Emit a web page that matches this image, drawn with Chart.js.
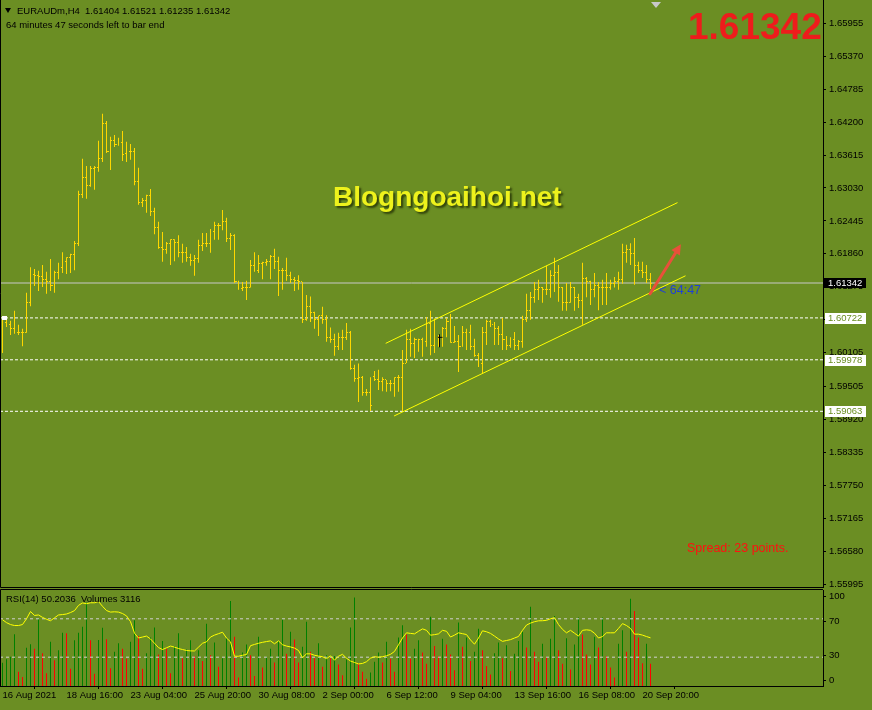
<!DOCTYPE html>
<html>
<head>
<meta charset="utf-8">
<title>EURAUDm H4</title>
<script src="https://cdn.jsdelivr.net/npm/chart.js@4.4.0/dist/chart.umd.min.js"></script>
<style>
  html, body { margin: 0; padding: 0; }
  body { width: 872px; height: 710px; background: #6b8e23; position: relative; overflow: hidden;
         font-family: 'Liberation Sans', Arial, sans-serif; }
  canvas { position: absolute; left: 0; }
  #price { top: 0; }
  #rsi { top: 588px; }
  .lbl { position: absolute; white-space: pre; line-height: 1; }
  .tri { position: absolute; width: 0; height: 0; border-left: 3px solid transparent; border-right: 3px solid transparent; }
</style>
</head>
<body>
<canvas id="price" width="872" height="588"></canvas>
<canvas id="rsi" width="872" height="122"></canvas>

<div class="tri" style="left:5px; top:8px; border-top:5px solid #000;"></div>
<div class="lbl" style="left:17px; top:6px; font-size:9.5px; color:#000;">EURAUDm,H4  1.61404 1.61521 1.61235 1.61342</div>
<div class="lbl" style="left:6px; top:19.5px; font-size:9.5px; color:#000;">64 minutes 47 seconds left to bar end</div>
<div class="tri" style="left:651px; top:2px; border-left-width:5px; border-right-width:5px; border-top:6px solid #c8c8c8;"></div>
<div class="lbl" style="left:688px; top:8px; font-size:37px; font-weight:bold; color:#ee1c1c;">1.61342</div>
<div class="lbl" style="left:333px; top:183px; font-size:28px; font-weight:bold; color:#eef21c; text-shadow:2px 2px 2px rgba(30,40,0,0.75);">Blogngoaihoi.net</div>
<div class="lbl" style="left:659px; top:284px; font-size:12.5px; color:#1e3fd8;">&lt; 64:47</div>
<div class="lbl" style="left:687px; top:542px; font-size:12.5px; color:#ff1010;">Spread: 23 points.</div>
<div class="lbl" style="left:6px; top:594px; font-size:9.5px; color:#000;">RSI(14) 50.2036  Volumes 3116</div>

<script>
// bar data (H4, oldest first)
var opens = [1.6069,1.6064,1.6060,1.6053,1.6046,1.6046,1.6046,1.6100,1.6150,1.6147,
  1.6145,1.6141,1.6136,1.6129,1.6152,1.6161,1.6173,1.6179,1.6184,1.6205,
  1.6291,1.6321,1.6307,1.6337,1.6339,1.6355,1.6417,1.6367,1.6388,1.6381,
  1.6383,1.6365,1.6367,1.6367,1.6314,1.6278,1.6280,1.6289,1.6262,1.6232,
  1.6198,1.6193,1.6204,1.6211,1.6207,1.6189,1.6188,1.6179,1.6175,1.6177,
  1.6200,1.6205,1.6204,1.6225,1.6237,1.6237,1.6244,1.6214,1.6219,1.6136,
  1.6124,1.6127,1.6126,1.6165,1.6156,1.6168,1.6170,1.6173,1.6181,1.6173,
  1.6157,1.6156,1.6147,1.6141,1.6138,1.6136,1.6069,1.6092,1.6081,1.6069,
  1.6076,1.6070,1.6037,1.6033,1.6022,1.6038,1.6038,1.6047,1.5982,1.5964,
  1.5967,1.5939,1.5939,1.5969,1.5962,1.5960,1.5962,1.5955,1.5955,1.5966,
  1.5966,1.5992,1.6033,1.6026,1.6033,1.6033,1.6031,1.6063,1.6024,1.6037,
  1.6038,1.6054,1.6065,1.6028,1.6030,1.6022,1.6046,1.6046,1.6021,1.6005,
  1.5992,1.6046,1.6065,1.6060,1.6053,1.6042,1.6033,1.6024,1.6033,1.6024,
  1.6030,1.6069,1.6086,1.6109,1.6122,1.6126,1.6122,1.6122,1.6148,1.6152,
  1.6126,1.6099,1.6099,1.6127,1.6109,1.6104,1.6143,1.6136,1.6122,1.6129,
  1.6127,1.6127,1.6127,1.6133,1.6136,1.6140,1.6189,1.6193,1.6186,1.6166,
  1.6157,1.6152,1.61404];
var highs = [1.6069,1.6069,1.6067,1.6085,1.6060,1.6053,1.6117,1.6162,1.6159,1.6156,
  1.6166,1.6154,1.6177,1.6156,1.6170,1.6189,1.6180,1.6186,1.6209,1.6298,
  1.6355,1.6342,1.6342,1.6342,1.6387,1.6435,1.6422,1.6394,1.6397,1.6392,
  1.6404,1.6385,1.6381,1.6374,1.6339,1.6285,1.6291,1.6301,1.6268,1.6243,
  1.6225,1.6207,1.6212,1.6212,1.6219,1.6204,1.6198,1.6186,1.6184,1.6211,
  1.6223,1.6223,1.6230,1.6243,1.6241,1.6264,1.6250,1.6223,1.6221,1.6138,
  1.6136,1.6138,1.6175,1.6189,1.6184,1.6172,1.6177,1.6184,1.6195,1.6181,
  1.6161,1.6179,1.6154,1.6145,1.6148,1.6136,1.6113,1.6110,1.6083,1.6076,
  1.6092,1.6077,1.6055,1.6044,1.6046,1.6051,1.6063,1.6049,1.5989,1.5991,
  1.5969,1.5946,1.5967,1.5978,1.5980,1.5967,1.5962,1.5962,1.5967,1.5971,
  1.6015,1.6051,1.6053,1.6037,1.6035,1.6037,1.6074,1.6085,1.6071,1.6042,
  1.6056,1.6072,1.6079,1.6058,1.6042,1.6058,1.6053,1.6060,1.6035,1.6010,
  1.6056,1.6069,1.6069,1.6065,1.6058,1.6072,1.6040,1.6038,1.6047,1.6033,
  1.6076,1.6115,1.6118,1.6136,1.6140,1.6127,1.6165,1.6157,1.6179,1.6166,
  1.6127,1.6134,1.6136,1.6127,1.6115,1.6170,1.6145,1.6138,1.6152,1.6136,
  1.6140,1.6152,1.6140,1.6145,1.6154,1.6204,1.6202,1.6205,1.6214,1.6172,
  1.6172,1.6166,1.61521];
var lows = [1.6010,1.6056,1.6042,1.6044,1.6042,1.6022,1.6046,1.6093,1.6129,1.6120,
  1.6127,1.6115,1.6120,1.6117,1.6141,1.6152,1.6150,1.6152,1.6157,1.6200,
  1.6285,1.6284,1.6305,1.6300,1.6332,1.6349,1.6365,1.6335,1.6376,1.6378,
  1.6351,1.6349,1.6353,1.6308,1.6273,1.6269,1.6259,1.6253,1.6221,1.6195,
  1.6172,1.6186,1.6166,1.6173,1.6180,1.6170,1.6172,1.6165,1.6147,1.6170,
  1.6191,1.6198,1.6188,1.6211,1.6211,1.6228,1.6207,1.6193,1.6134,1.6122,
  1.6120,1.6104,1.6126,1.6154,1.6152,1.6141,1.6165,1.6141,1.6159,1.6111,
  1.6122,1.6138,1.6134,1.6120,1.6122,1.6063,1.6067,1.6065,1.6053,1.6040,
  1.6062,1.6030,1.6028,1.6005,1.6015,1.6015,1.6033,1.5980,1.5959,1.5923,
  1.5934,1.5934,1.5907,1.5960,1.5944,1.5942,1.5941,1.5942,1.5932,1.5941,
  1.5907,1.5992,1.6003,1.6001,1.6012,1.6003,1.6021,1.6006,1.6010,1.6021,
  1.6021,1.6038,1.6028,1.6028,1.5976,1.6021,1.6015,1.6015,1.6003,1.5985,
  1.5974,1.6024,1.6056,1.6024,1.6024,1.6015,1.6015,1.6019,1.6015,1.6015,
  1.6019,1.6065,1.6069,1.6099,1.6104,1.6099,1.6113,1.6108,1.6118,1.6101,
  1.6085,1.6085,1.6099,1.6085,1.6090,1.6060,1.6109,1.6095,1.6109,1.6086,
  1.6095,1.6095,1.6122,1.6126,1.6122,1.6133,1.6170,1.6166,1.6131,1.6152,
  1.6143,1.6134,1.61235];
var closes = [1.6065,1.6060,1.6053,1.6046,1.6046,1.6046,1.6100,1.6150,1.6147,1.6145,
  1.6141,1.6136,1.6129,1.6152,1.6161,1.6173,1.6179,1.6184,1.6205,1.6291,
  1.6321,1.6307,1.6337,1.6339,1.6355,1.6417,1.6367,1.6388,1.6381,1.6383,
  1.6362,1.6365,1.6367,1.6314,1.6277,1.6280,1.6289,1.6262,1.6232,1.6198,
  1.6193,1.6204,1.6211,1.6207,1.6189,1.6188,1.6179,1.6175,1.6177,1.6200,
  1.6205,1.6204,1.6225,1.6237,1.6237,1.6244,1.6214,1.6219,1.6136,1.6124,
  1.6127,1.6126,1.6165,1.6156,1.6168,1.6170,1.6173,1.6181,1.6173,1.6157,
  1.6156,1.6147,1.6141,1.6138,1.6136,1.6069,1.6092,1.6081,1.6069,1.6076,
  1.6070,1.6037,1.6033,1.6022,1.6038,1.6038,1.6047,1.5982,1.5964,1.5967,
  1.5939,1.5939,1.5916,1.5962,1.5960,1.5962,1.5955,1.5955,1.5966,1.5966,
  1.5992,1.6033,1.6026,1.6033,1.6033,1.6031,1.6063,1.6024,1.6037,1.6038,
  1.6054,1.6065,1.6028,1.6030,1.6022,1.6046,1.6046,1.6021,1.6005,1.5992,
  1.6046,1.6065,1.6060,1.6053,1.6042,1.6033,1.6024,1.6033,1.6024,1.6030,
  1.6069,1.6086,1.6109,1.6122,1.6126,1.6122,1.6122,1.6148,1.6152,1.6126,
  1.6099,1.6099,1.6127,1.6109,1.6104,1.6143,1.6136,1.6122,1.6129,1.6127,
  1.6127,1.6127,1.6133,1.6136,1.6140,1.6189,1.6193,1.6186,1.6166,1.6157,
  1.6152,1.6140,1.61342];
var volumes = [3270,3730,4100,7230,2000,1260,5370,5830,5230,9430,
  4570,1770,6200,3600,5000,7470,7370,2430,6400,7470,
  8300,11670,6400,1730,6440,8170,6530,2500,4800,6000,
  5200,3800,6200,9200,7000,2400,4600,6800,8200,4400,
  6300,5200,1800,5600,7400,3900,5100,6400,4200,5000,
  3500,8700,4300,6100,2700,3900,6600,11900,6900,1200,
  4700,5800,4300,1400,6900,2600,4100,5200,3300,6300,
  9300,4500,7600,6500,3300,5500,9000,4800,3900,6000,
  2700,4300,3900,4200,3000,1500,3700,8200,12400,3200,
  2000,1000,1900,3400,4700,3300,6200,3800,2000,6800,
  8500,7200,3800,5200,6400,4700,3100,9700,5600,4200,
  6600,5800,4400,2200,8900,5500,6800,3500,4800,8000,
  5000,2800,1600,4600,6100,3900,5700,2100,4500,6300,
  7600,5400,11100,4800,3400,5900,4100,6600,9800,5000,
  3100,6700,2300,5800,9600,7200,4400,3000,6900,5400,
  9600,4200,2600,1200,5900,7800,4800,12200,10500,6800,
  3200,5900,3116];
var rsi = [69,66,64,63,63,64,70,77.6,73.5,74,
  71.5,69.5,68,71,74,74.4,75,76.5,78.5,84,
  86.5,85.7,86.7,86.7,88,83,78.6,77,77.3,77,
  75.5,73,67,55,50,51,52,49,44.5,40,
  38,39.8,41.6,40.5,39,38,37,36.6,36.5,40.5,
  44.5,46,51,53,54.5,56,50,46,31,31,
  32,32.8,42,43.3,44.5,45.5,46.3,47,44,47,
  43,41.6,40.7,39.5,37,29.5,33.5,33.5,32,31.2,
  30.5,28.5,31.4,27,31,33,29,26,24.5,23,
  23.5,25.3,29,30.5,30,30.5,31.5,33,36,43,
  50,55.4,54.8,54.3,57,59.5,58,52.9,53.5,54.3,
  58,57,51,53,55.4,54.5,53.6,48,43.5,50,
  57.5,56.5,54.8,52,49,46.5,47.4,48.3,50,51.6,
  58,63.5,65.5,67,67.9,68,68.4,70,71.2,64,
  59,55.4,58,55,52,58,58.5,58,55,50,
  51.5,55.4,55.4,55.4,60,65,63,60,54,54,
  53,51.5,50.2];

var tickIdx = [0, 16, 32, 48, 64, 80, 96, 112, 128, 144, 160];
var tickLabels = ['16 Aug 2021', '18 Aug 16:00', '23 Aug 04:00', '25 Aug 20:00', '30 Aug 08:00',
  '2 Sep 00:00', '6 Sep 12:00', '9 Sep 04:00', '13 Sep 16:00', '16 Sep 08:00', '20 Sep 20:00'];
var priceTicks = [1.65955, 1.65370, 1.64785, 1.64200, 1.63615, 1.63030, 1.62445, 1.61860, 1.61275,
  1.60690, 1.60105, 1.59505, 1.58920, 1.58335, 1.57750, 1.57165, 1.56580, 1.55995];
var rsiTicks = [0, 30, 70, 100];
var rsiLevels = [70, 30];
var lastPrice = 1.61342;
var levels = [1.60722, 1.59978, 1.59063];
// trend channel, [bar index, price]
var upperChannel = [[95.8, 1.6027], [168.75, 1.6277]];
var lowerChannel = [[97.9, 1.5898], [170.75, 1.6147]];
var arrowFrom = [161.9, 1.6115], arrowTo = [169.6, 1.6203];
var markBar = 109, markTop = 1.6043, markLow = 1.6020;

var xMin = -0.625, xMax = 205.125;
var GOLD = '#ffd700';
Chart.defaults.font.family = "'Liberation Sans', Arial, sans-serif";
Chart.defaults.font.size = 9;
Chart.defaults.color = '#000';

function hline(v) { return [{x: xMin, y: v}, {x: xMax, y: v}]; }
function seg(p) { return p.map(function(q) { return {x: q[0], y: q[1]}; }); }
function noPad(s) { s.paddingTop = 0; s.paddingBottom = 0; s.paddingLeft = 0; s.paddingRight = 0; }

var hlData = [], openData = [], closeData = [], volData = [], volColors = [], rsiData = [];
for (var i = 0; i < closes.length; i++) {
  hlData.push({x: i, y: [lows[i], highs[i]]});
  openData.push({x: i - 0.375, y: opens[i]});
  closeData.push({x: i + 0.375, y: closes[i]});
  volData.push({x: i, y: volumes[i]});
  volColors.push(i > 0 && volumes[i] < volumes[i - 1] ? '#ff0000' : '#008000');
  rsiData.push({x: i, y: rsi[i]});
}

var priceDatasets = [
  {type: 'line', data: hline(lastPrice), borderColor: '#c8c8c8', borderWidth: 1, pointRadius: 0, order: 5}
];
levels.forEach(function(v) {
  priceDatasets.push({type: 'line', data: hline(v), borderColor: '#ffffff', borderWidth: 1,
    borderDash: [3, 2], pointRadius: 0, order: 5});
});
var hlIndex = priceDatasets.length;
priceDatasets.push(
  {type: 'bar', data: hlData, backgroundColor: GOLD, barThickness: 1, inflateAmount: 0, order: 2},
  // open / close ticks: positioned by the scales, painted crisp in the plugin below
  {type: 'scatter', data: openData, pointRadius: 0, order: 2},
  {type: 'scatter', data: closeData, pointRadius: 0, order: 2},
  {type: 'line', data: seg(upperChannel), borderColor: '#ffff00', borderWidth: 1, pointRadius: 0, order: 1},
  {type: 'line', data: seg(lowerChannel), borderColor: '#ffff00', borderWidth: 1, pointRadius: 0, order: 1}
);

// frame, tick marks, arrow, marker and price boxes on the main window
var priceExtras = {
  id: 'priceExtras',
  afterDatasetsDraw: function(chart) {
    var ctx = chart.ctx;
    ctx.save();
    ctx.fillStyle = GOLD;
    [hlIndex + 1, hlIndex + 2].forEach(function(k, side) {
      chart.getDatasetMeta(k).data.forEach(function(pt) {
        var px = side === 0 ? Math.floor(pt.x) : Math.floor(pt.x) - 1;
        ctx.fillRect(px, Math.round(pt.y - 0.5), 1, 1);
      });
    });
    ctx.restore();
  },
  afterDraw: function(chart) {
    var ctx = chart.ctx, a = chart.chartArea, xs = chart.scales.x, ys = chart.scales.y;
    ctx.save();
    ctx.strokeStyle = '#000';
    ctx.lineWidth = 1;
    ctx.beginPath();
    ctx.moveTo(0.5, 0); ctx.lineTo(0.5, a.bottom + 0.5); ctx.lineTo(a.right, a.bottom + 0.5);
    ctx.stroke();

    // small black up-arrow object
    var mx = Math.round(xs.getPixelForValue(markBar)) + 0.5;
    var mt = ys.getPixelForValue(markTop), mb = ys.getPixelForValue(markLow);
    ctx.beginPath();
    ctx.moveTo(mx, mt); ctx.lineTo(mx, mb);
    ctx.moveTo(mx - 2, mt + 3); ctx.lineTo(mx + 3, mt + 3);
    ctx.stroke();

    // red arrow
    var x0 = xs.getPixelForValue(arrowFrom[0]), y0 = ys.getPixelForValue(arrowFrom[1]);
    var x1 = xs.getPixelForValue(arrowTo[0]), y1 = ys.getPixelForValue(arrowTo[1]);
    var ang = Math.atan2(y1 - y0, x1 - x0);
    ctx.strokeStyle = '#e8503a';
    ctx.fillStyle = '#e8503a';
    ctx.lineWidth = 3;
    ctx.lineCap = 'round';
    ctx.beginPath();
    ctx.moveTo(x0, y0);
    ctx.lineTo(x1 - 7 * Math.cos(ang), y1 - 7 * Math.sin(ang));
    ctx.stroke();
    ctx.beginPath();
    ctx.moveTo(x1, y1);
    ctx.lineTo(x1 - 10 * Math.cos(ang) + 5 * Math.sin(ang), y1 - 10 * Math.sin(ang) - 5 * Math.cos(ang));
    ctx.lineTo(x1 - 10 * Math.cos(ang) - 5 * Math.sin(ang), y1 - 10 * Math.sin(ang) + 5 * Math.cos(ang));
    ctx.closePath();
    ctx.fill();

    // white anchor flag at left of the first level
    var ly = Math.round(ys.getPixelForValue(levels[0]));
    ctx.fillStyle = '#fff';
    ctx.fillRect(2, ly - 2, 5, 4);

    // price boxes on the axis
    ctx.font = "9.5px 'Liberation Sans', Arial, sans-serif";
    ctx.textBaseline = 'middle';
    var py = Math.round(ys.getPixelForValue(lastPrice));
    ctx.fillStyle = '#000';
    ctx.fillRect(a.right + 1, py - 5, 42, 10);
    ctx.fillStyle = '#fff';
    ctx.fillText(lastPrice.toFixed(5), a.right + 5, py + 0.5);
    levels.forEach(function(v) {
      var yy = Math.round(ys.getPixelForValue(v));
      ctx.fillStyle = '#fff';
      ctx.fillRect(a.right + 2, yy - 5, 41, 11);
      ctx.fillStyle = '#6b8e23';
      ctx.fillText(v.toFixed(5), a.right + 5, yy + 0.5);
    });
    ctx.restore();
  }
};

new Chart(document.getElementById('price'), {
  type: 'bar',
  data: {datasets: priceDatasets},
  options: {
    responsive: false,
    animation: false,
    layout: {padding: {top: 0, bottom: 1, left: 0, right: 0}},
    plugins: {legend: {display: false}, tooltip: {enabled: false}},
    scales: {
      x: {type: 'linear', min: xMin, max: xMax, offset: false, display: false},
      y: {
        position: 'right', min: 1.55942, max: 1.66369,
        afterBuildTicks: function(s) { s.ticks = priceTicks.map(function(v) { return {value: v}; }); },
        afterFit: function(s) { s.width = 49; noPad(s); },
        ticks: {autoSkip: false, padding: 3, color: '#000', font: {size: 9.5},
          callback: function(v) { return v.toFixed(5); }},
        grid: {drawOnChartArea: false, color: '#000', tickLength: 3},
        border: {color: '#000'}
      }
    }
  },
  plugins: [priceExtras]
});

var rsiFrame = {
  id: 'rsiFrame',
  afterDraw: function(chart) {
    var ctx = chart.ctx, a = chart.chartArea;
    ctx.save();
    ctx.strokeStyle = '#000';
    ctx.lineWidth = 1;
    ctx.beginPath();
    ctx.moveTo(0.5, a.bottom); ctx.lineTo(0.5, a.top - 0.5); ctx.lineTo(a.right, a.top - 0.5);
    ctx.stroke();
    ctx.restore();
  }
};

var rsiDatasets = [
  {type: 'bar', data: volData, yAxisID: 'yv', backgroundColor: volColors, barThickness: 1, inflateAmount: 0, order: 3}
];
rsiLevels.forEach(function(v) {
  rsiDatasets.push({type: 'line', data: hline(v), yAxisID: 'yr', borderColor: '#d0d0d0', borderWidth: 1,
    borderDash: [3, 3], pointRadius: 0, order: 2});
});
rsiDatasets.push({type: 'line', data: rsiData, yAxisID: 'yr', borderColor: '#ffff00', borderWidth: 1,
  pointRadius: 0, tension: 0, order: 1});

new Chart(document.getElementById('rsi'), {
  type: 'bar',
  data: {datasets: rsiDatasets},
  options: {
    responsive: false,
    animation: false,
    layout: {padding: {top: 2, bottom: 0, left: 0, right: 0}},
    plugins: {legend: {display: false}, tooltip: {enabled: false}},
    scales: {
      x: {
        type: 'linear', min: xMin, max: xMax, offset: false, position: 'bottom',
        afterBuildTicks: function(s) { s.ticks = tickIdx.map(function(v) { return {value: v}; }); },
        afterFit: function(s) { s.height = 24; noPad(s); },
        ticks: {autoSkip: false, maxRotation: 0, minRotation: 0, align: 'start', padding: 1, color: '#000',
          font: {size: 9.5},
          callback: function(v, idx) { return tickLabels[idx]; }},
        grid: {drawOnChartArea: false, color: '#000', tickLength: 3},
        border: {color: '#000'}
      },
      yr: {min: 0, max: 100, display: false},
      yv: {min: 0, max: 13440, display: false},
      yl: {
        position: 'right', min: -7.2, max: 108,
        afterBuildTicks: function(s) { s.ticks = rsiTicks.map(function(v) { return {value: v}; }); },
        afterFit: function(s) { s.width = 49; noPad(s); },
        ticks: {autoSkip: false, padding: 3, color: '#000', font: {size: 9.5}},
        grid: {drawOnChartArea: false, color: '#000', tickLength: 3},
        border: {color: '#000'}
      }
    }
  },
  plugins: [rsiFrame]
});
</script>
</body>
</html>
